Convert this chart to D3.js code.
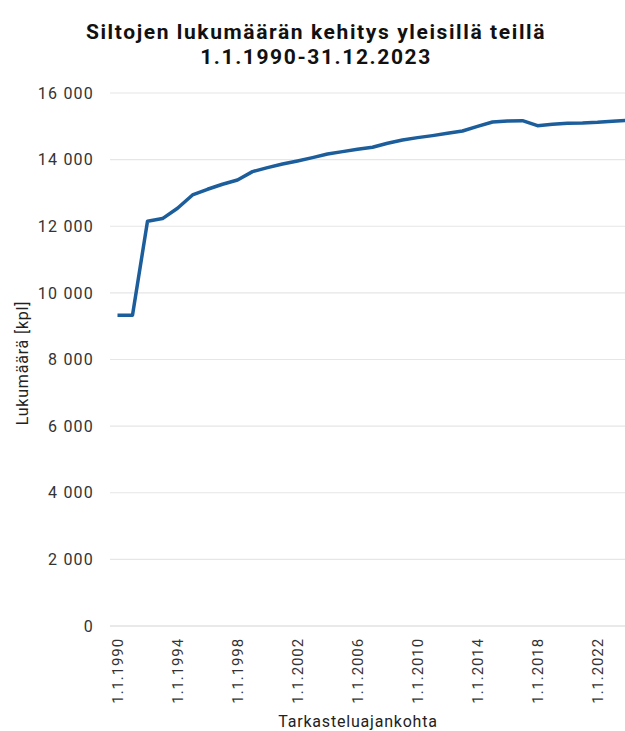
<!DOCTYPE html>
<html>
<head>
<meta charset="utf-8">
<script src="https://cdn.jsdelivr.net/npm/d3@7"></script>
<style>
  html, body { margin: 0; padding: 0; background: #fff; }
  svg { display: block; font-family: Roboto, "Open Sans", sans-serif; }
</style>
</head>
<body>
<svg id="chart" width="625" height="731"></svg>
<script>
// Bridge counts on public roads, 1 January of each year
const years = [1990, 1991, 1992, 1993, 1994, 1995, 1996, 1997, 1998, 1999,
  2000, 2001, 2002, 2003, 2004, 2005, 2006, 2007, 2008, 2009,
  2010, 2011, 2012, 2013, 2014, 2015, 2016, 2017, 2018, 2019,
  2020, 2021, 2022, 2023, 2024];
const bridges = [9330, 9330, 12150, 12230, 12540, 12940, 13110, 13260, 13390, 13640,
  13760, 13870, 13960, 14060, 14170, 14240, 14310, 14370, 14490, 14590,
  14660, 14720, 14790, 14860, 15000, 15130, 15160, 15170, 15020, 15060,
  15090, 15100, 15120, 15150, 15180];
const yTicks = [0, 2000, 4000, 6000, 8000, 10000, 12000, 14000, 16000];
const labelYears = [1990, 1994, 1998, 2002, 2006, 2010, 2014, 2018, 2022];

const titleLines = ["Siltojen lukumäärän kehitys yleisillä teillä", "1.1.1990-31.12.2023"];
const yTitle = "Lukumäärä [kpl]";
const xTitle = "Tarkasteluajankohta";

const svg = d3.select("#chart");
const margin = { left: 110, top: 93, bottom: 626 };
const plotRight = margin.left + years.length * 15;

const x = d3.scaleBand().domain(years).range([margin.left, plotRight]);
const y = d3.scaleLinear().domain([0, 16000]).range([margin.bottom, margin.top]);

const fmt = v => d3.format(",")(v).replace(/,/g, "\u00a0");

// Title
svg.append("g").selectAll("text").data(titleLines).join("text")
  .attr("x", 316).attr("y", (d, i) => 39 + i * 25)
  .attr("text-anchor", "middle")
  .attr("font-size", 21).attr("font-weight", 700).attr("fill", "#111")
  .attr("letter-spacing", 1.6)
  .text(d => d);

// Horizontal gridlines
svg.append("g").selectAll("line").data(yTicks).join("line")
  .attr("x1", margin.left).attr("x2", 625)
  .attr("y1", d => y(d)).attr("y2", d => y(d))
  .attr("stroke", d => d === 0 ? "#d4d4d4" : "#e6e6e6").attr("stroke-width", 1.2);

// Y axis labels
const yAxis = svg.append("g")
  .attr("transform", `translate(${margin.left - 16},0)`)
  .call(d3.axisLeft(y).tickValues(yTicks).tickSize(0).tickPadding(0).tickFormat(fmt));
yAxis.select(".domain").remove();
yAxis.selectAll("text")
  .attr("font-family", "Roboto, sans-serif")
  .attr("font-size", 16).attr("fill", "#333")
  .attr("letter-spacing", 1.2);

// X axis labels (rotated)
const xAxis = svg.append("g")
  .attr("transform", `translate(0,${margin.bottom})`)
  .call(d3.axisBottom(x).tickValues(labelYears).tickSize(0).tickFormat(d => "1.1." + d));
xAxis.select(".domain").remove();
xAxis.selectAll("text")
  .attr("font-family", "Roboto, sans-serif")
  .attr("font-size", 15).attr("fill", "#333")
  .attr("letter-spacing", 0.9)
  .attr("text-anchor", "end")
  .attr("transform", "rotate(-90)")
  .attr("x", -12).attr("y", 0).attr("dy", "0.35em");

// Axis titles
svg.append("text")
  .attr("transform", `translate(28,363) rotate(-90)`)
  .attr("text-anchor", "middle").attr("font-size", 16).attr("fill", "#222")
  .attr("letter-spacing", 0.8)
  .text(yTitle);
svg.append("text")
  .attr("x", 358).attr("y", 727)
  .attr("text-anchor", "middle").attr("font-size", 16).attr("fill", "#222")
  .attr("letter-spacing", 0.8)
  .text(xTitle);

// Data line
const line = d3.line()
  .x((d, i) => x(years[i]) + x.bandwidth() / 2)
  .y(d => y(d));
svg.append("path")
  .datum(bridges)
  .attr("d", line)
  .attr("fill", "none")
  .attr("stroke", "#1c5d9b")
  .attr("stroke-width", 3.5)
  .attr("stroke-linejoin", "round")
  .attr("stroke-linecap", "butt");
</script>
</body>
</html>
